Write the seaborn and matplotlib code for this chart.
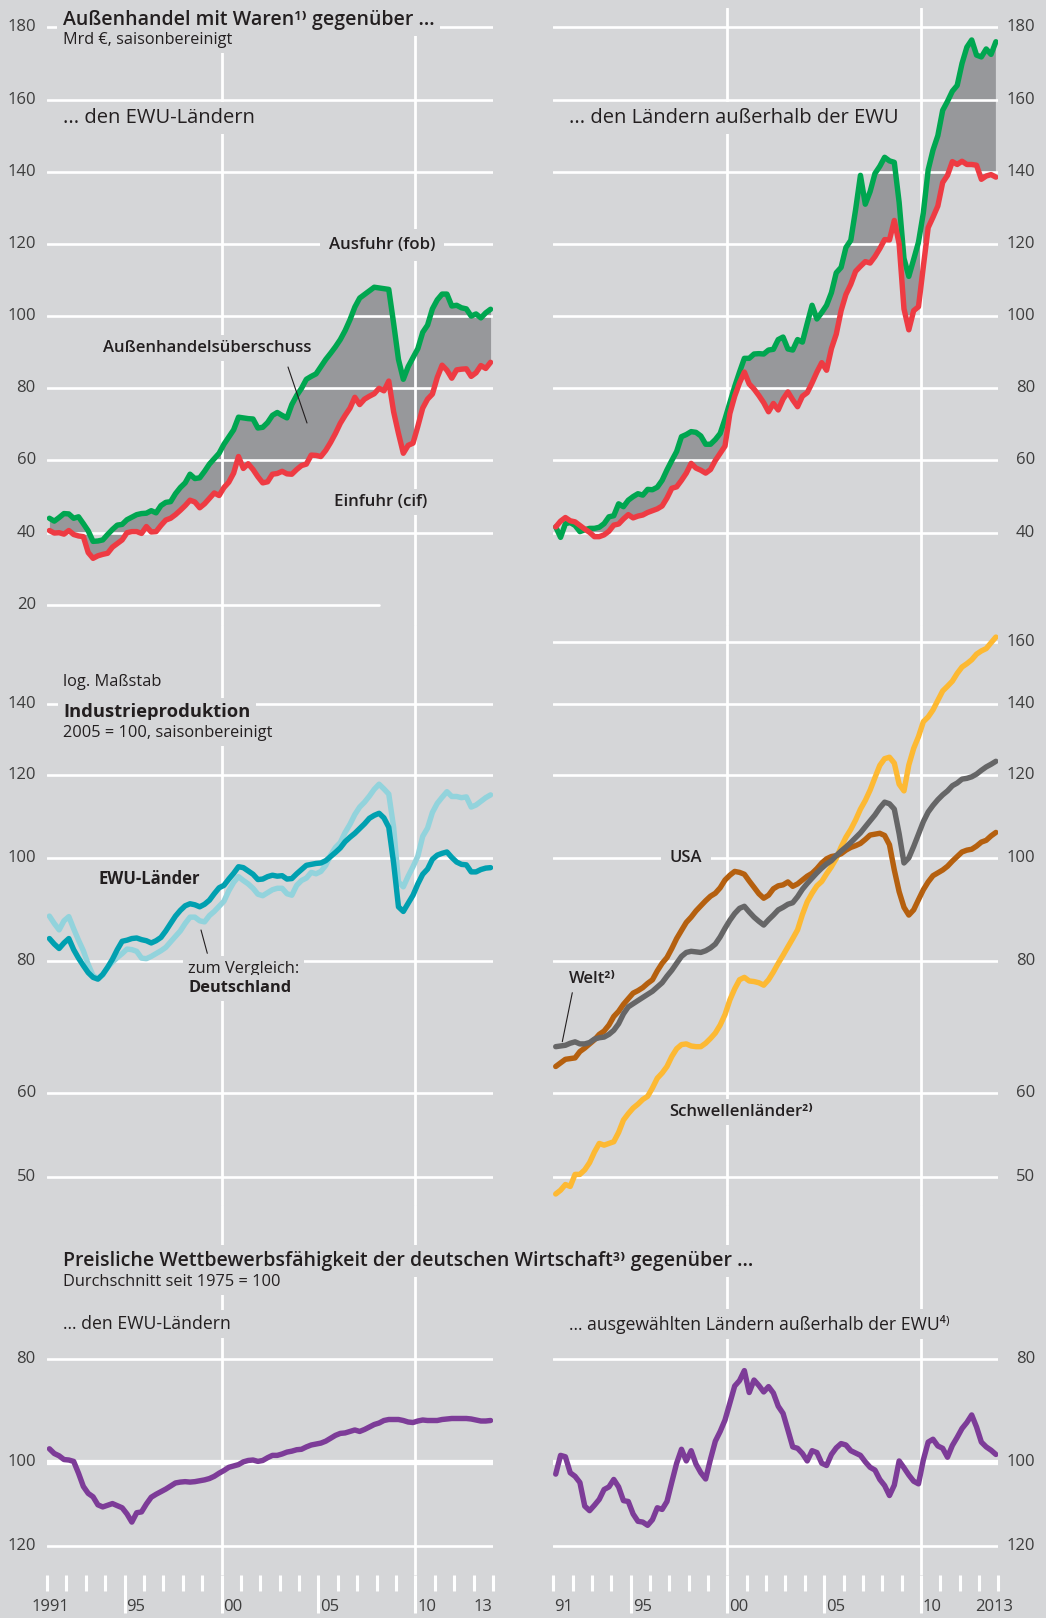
import numpy as np
import pandas as pd
import matplotlib
matplotlib.use("Agg")
import matplotlib.pyplot as plt
import matplotlib.transforms as mtransforms
from matplotlib.lines import Line2D
from matplotlib.ticker import FixedLocator, NullFormatter
import seaborn as sns

# Farben
BG = "#d5d6d8"
GREEN = "#00a650"
RED = "#ee3b43"
FILL = "#97989b"
TEAL = "#00a0b0"
LTEAL = "#92d3dc"
BROWN = "#b5600f"
GRAY = "#666667"
YELLOW = "#fdb933"
PURPLE = "#7d3c98"
TXT = "#231f20"
TICK = "#3d3d3d"

sns.set_theme(style="white", rc={"axes.facecolor": BG, "figure.facecolor": BG})
plt.rcParams["font.family"] = ["Open Sans", "DejaVu Sans"]

# Quartale 1991Q1 .. 2013Q4
q_year = np.repeat(np.arange(1991, 2014), 4)
q_num = np.tile([1, 2, 3, 4], 23)
t = q_year + (q_num - 0.5) / 4

# Außenhandel EWU (Mrd EUR)
ewu_export = np.array([
    44.0, 43.2, 44.2, 45.3, 45.2, 44.0, 44.4, 42.5,
    40.5, 37.6, 37.7, 38.0, 39.5, 40.9, 42.1, 42.3,
    43.6, 44.3, 45.0, 45.3, 45.4, 46.1, 45.5, 47.5,
    48.4, 48.6, 50.8, 52.5, 53.8, 56.2, 55.0, 55.2,
    57.0, 59.0, 60.5, 62.0, 64.5, 66.5, 68.5, 72.0,
    71.8, 71.6, 71.5, 69.0, 69.2, 70.5, 72.5, 73.3,
    72.5, 71.8, 75.5, 78.0, 80.0, 82.5, 83.3, 84.0,
    86.0, 88.0, 89.7, 91.5, 93.5, 96.0, 99.0, 102.5,
    105.0, 106.0, 107.0, 108.0, 107.8, 107.6, 107.4, 98.0,
    88.0, 82.5, 86.0, 88.5, 91.0, 95.5, 97.5, 102.0,
    104.5, 106.1, 106.1, 102.8, 103.0, 102.3, 102.0, 100.0,
    100.6, 99.5, 100.9, 101.9])
ewu_import = np.array([
    40.6, 39.9, 40.0, 39.6, 40.6, 39.5, 39.1, 38.9,
    34.5, 32.9, 33.6, 34.0, 34.3, 36.0, 37.0, 38.0,
    40.0, 40.3, 40.3, 39.8, 41.7, 40.2, 40.3, 42.0,
    43.5, 44.0, 45.0, 46.2, 47.5, 49.0, 48.5, 46.9,
    48.0, 49.5, 51.0, 50.3, 52.5, 54.0, 56.5, 61.1,
    57.8, 59.1, 57.5, 55.5, 53.8, 54.1, 56.2, 56.4,
    57.0, 56.3, 56.2, 57.5, 58.6, 59.0, 61.5, 61.4,
    61.1, 62.8, 65.0, 67.5, 70.3, 72.5, 74.5, 77.5,
    75.5, 77.0, 77.8, 78.5, 80.0, 79.3, 82.0, 73.5,
    67.5, 62.0, 64.2, 64.8, 69.5, 74.5, 77.0, 78.4,
    83.0, 86.4, 85.0, 82.8, 85.1, 85.3, 85.4, 83.3,
    84.3, 86.3, 85.5, 87.2])

# Außenhandel außerhalb der EWU
xewu_export = np.array([
    41.6, 38.7, 42.5, 42.8, 42.0, 40.3, 40.8, 41.2,
    41.2, 41.5, 42.5, 44.4, 44.7, 48.0, 47.2, 49.0,
    50.0, 50.8, 50.4, 52.0, 51.9, 52.6, 54.5, 57.4,
    60.0, 62.5, 66.6, 67.2, 68.0, 67.8, 66.8, 64.5,
    64.5, 65.8, 67.5, 71.5, 76.0, 80.5, 84.5, 88.3,
    88.3, 89.5, 89.6, 89.5, 90.6, 90.8, 93.5, 94.2,
    90.9, 90.6, 93.5, 92.8, 98.0, 103.0, 99.2, 101.0,
    103.0, 106.5, 112.0, 113.5, 119.0, 121.0, 129.5, 139.0,
    131.0, 134.5, 139.5, 141.5, 144.0, 143.0, 142.6, 131.5,
    116.0, 111.0, 115.7, 120.5, 128.6, 140.5, 146.0, 150.0,
    157.0, 159.5, 162.3, 163.9, 170.0, 174.5, 176.5, 172.3,
    171.8, 174.0, 172.5, 176.0])
xewu_import = np.array([
    41.6, 43.2, 44.2, 43.3, 43.0, 42.0, 41.0, 40.1,
    38.9, 38.9, 39.4, 40.4, 42.1, 42.4, 43.8, 45.0,
    44.1, 44.6, 44.9, 45.6, 46.1, 46.6, 47.4, 49.6,
    52.3, 52.7, 54.5, 56.5, 59.2, 57.9, 57.3, 56.5,
    57.5, 60.0, 62.0, 64.0, 73.0, 77.8, 81.5, 84.5,
    81.2, 79.8, 78.0, 76.0, 73.5, 75.8, 74.0, 77.0,
    79.0, 76.8, 74.9, 77.8, 78.8, 81.5, 84.5, 87.1,
    85.0, 91.0, 95.0, 101.5, 106.0, 108.8, 112.4, 113.8,
    115.1, 114.7, 116.5, 118.7, 121.2, 121.1, 126.5, 120.0,
    102.0, 96.2, 101.5, 102.6, 113.7, 124.5, 127.4, 130.5,
    137.0, 139.0, 142.8, 142.0, 142.9, 142.0, 142.0, 141.8,
    137.9, 138.8, 139.2, 138.5])

# Industrieproduktion, 2005 = 100
ip_ewu = np.array([
    84.0, 83.0, 82.2, 83.2, 84.0, 82.0, 80.5, 79.2,
    78.0, 77.2, 76.9, 77.7, 78.9, 80.3, 82.0, 83.5,
    83.7, 84.0, 84.1, 83.8, 83.6, 83.2, 83.6, 84.2,
    85.4, 86.8, 88.2, 89.3, 90.2, 90.6, 90.4, 90.0,
    90.5, 91.3, 92.6, 93.8, 94.3, 95.6, 96.8, 98.2,
    98.0, 97.3, 96.6, 95.5, 95.6, 96.1, 96.4, 96.2,
    96.3, 95.6, 95.7, 96.7, 97.6, 98.5, 98.7, 98.9,
    99.0, 99.5, 100.4, 101.3, 102.3, 103.7, 104.7, 105.6,
    106.7, 107.8, 109.1, 109.8, 110.3, 109.2, 107.0, 99.0,
    90.0, 89.1, 90.7, 92.3, 94.6, 96.6, 97.7, 99.8,
    100.7, 101.1, 101.4, 100.2, 99.2, 98.7, 98.6, 97.1,
    97.1, 97.6, 97.9, 98.0])
ip_de = np.array([
    88.2, 86.8, 85.6, 87.3, 88.1, 85.8, 83.7, 81.8,
    79.4, 77.5, 77.0, 77.6, 78.9, 79.8, 80.6, 81.3,
    82.1, 82.0, 81.7, 80.5, 80.4, 80.8, 81.3, 81.8,
    82.4, 83.4, 84.4, 85.4, 86.8, 88.0, 88.0, 87.3,
    87.1, 88.3, 89.1, 90.1, 91.1, 93.2, 94.9, 96.1,
    95.3, 94.6, 93.7, 92.5, 92.2, 92.8, 93.4, 93.7,
    93.7, 92.6, 92.3, 94.3, 95.3, 95.8, 97.0, 96.7,
    97.2, 98.5, 100.7, 102.4, 103.5, 105.8, 107.7, 110.0,
    111.8, 113.0, 114.5, 116.2, 117.5, 116.3, 115.0, 107.0,
    95.0, 94.0, 96.2, 98.2, 100.5, 104.9, 106.8, 110.5,
    112.7, 114.2, 115.6, 114.4, 114.4, 114.1, 114.3, 111.8,
    112.3, 113.2, 114.1, 114.8])
ip_usa = np.array([
    63.6, 64.1, 64.6, 64.7, 64.8, 65.7, 66.2, 66.8,
    67.4, 68.2, 68.7, 69.6, 70.9, 71.7, 72.8, 73.7,
    74.6, 75.0, 75.5, 76.2, 76.8, 78.3, 79.6, 80.6,
    82.2, 84.0, 85.5, 87.0, 88.0, 89.2, 90.2, 91.2,
    92.1, 92.7, 93.8, 95.4, 96.4, 97.2, 97.0, 96.6,
    95.2, 93.9, 92.6, 91.7, 92.3, 93.6, 94.2, 94.4,
    95.0, 94.1, 94.6, 95.4, 96.2, 96.8, 97.8, 99.0,
    99.9, 100.4, 100.6, 101.0, 101.8, 102.4, 102.8, 103.3,
    104.2, 105.2, 105.4, 105.6, 105.1, 103.0, 97.5, 93.0,
    89.9, 88.4, 89.4, 91.4, 93.4, 95.0, 96.3, 96.9,
    97.5, 98.3, 99.4, 100.4, 101.4, 101.8, 102.0, 102.7,
    103.6, 104.0, 105.0, 105.8])
ip_world = np.array([
    66.4, 66.5, 66.6, 66.9, 67.1, 66.8, 66.8, 67.0,
    67.5, 67.7, 67.8, 68.2, 68.8, 69.8, 71.3, 72.4,
    72.9, 73.4, 73.9, 74.4, 74.9, 75.6, 76.3, 77.4,
    78.4, 79.6, 80.8, 81.5, 81.7, 81.6, 81.5, 81.8,
    82.3, 83.0, 84.3, 85.9, 87.4, 88.7, 89.7, 90.1,
    89.0, 88.0, 87.2, 86.5, 87.5, 88.4, 89.4, 89.9,
    90.5, 90.8, 92.0, 93.5, 94.7, 95.8, 96.9, 97.9,
    98.8, 99.5, 100.6, 101.6, 102.5, 103.5, 104.6, 105.7,
    107.1, 108.5, 109.9, 111.6, 113.0, 112.6, 111.3, 105.5,
    99.0, 100.1, 102.6, 105.4, 108.3, 110.6, 112.2, 113.6,
    114.8, 115.8, 117.1, 117.8, 118.8, 119.0, 119.4, 120.1,
    121.1, 122.0, 122.7, 123.5])
ip_emerging = np.array([
    48.2, 48.6, 49.2, 49.0, 50.3, 50.3, 50.8, 51.6,
    52.8, 53.8, 53.6, 53.8, 54.0, 55.1, 56.6, 57.4,
    58.1, 58.6, 59.2, 59.6, 60.7, 62.0, 62.7, 63.6,
    65.0, 66.1, 66.7, 66.8, 66.5, 66.4, 66.4, 66.9,
    67.6, 68.4, 69.6, 71.2, 73.5, 75.3, 76.8, 77.2,
    76.6, 76.5, 76.3, 75.9, 76.8, 78.1, 79.6, 81.0,
    82.5, 84.0, 85.6, 88.5, 91.0, 92.7, 94.2, 95.1,
    96.7, 98.2, 100.0, 102.5, 104.7, 106.5, 108.7, 111.3,
    113.4, 116.0, 119.2, 122.4, 124.2, 124.6, 123.0, 117.5,
    115.8, 122.5, 127.0, 130.3, 134.6, 136.0, 138.1, 141.0,
    143.9, 145.4, 147.0, 149.5, 151.6, 152.7, 154.0, 155.9,
    157.0, 157.8, 159.8, 161.8])

# Preisliche Wettbewerbsfähigkeit, Durchschnitt seit 1975 = 100
comp_ewu = np.array([
    97.2, 98.2, 98.7, 99.5, 99.6, 99.9, 102.5, 105.5,
    107.1, 107.9, 109.8, 110.3, 109.9, 109.5, 110.0, 110.5,
    112.0, 114.0, 111.7, 111.5, 109.6, 108.0, 107.3, 106.7,
    106.1, 105.4, 104.7, 104.5, 104.4, 104.5, 104.4, 104.2,
    104.0, 103.7, 103.2, 102.5, 101.9, 101.2, 100.9, 100.6,
    100.0, 99.7, 99.6, 99.9, 99.7, 99.1, 98.6, 98.6,
    98.3, 97.9, 97.7, 97.4, 97.3, 96.8, 96.4, 96.2,
    96.0, 95.6, 95.0, 94.4, 94.0, 93.9, 93.6, 93.3,
    93.6, 93.2, 92.7, 92.2, 91.9, 91.4, 91.2, 91.2,
    91.2, 91.4, 91.7, 91.8, 91.5, 91.3, 91.4, 91.4,
    91.4, 91.2, 91.1, 91.0, 91.0, 91.0, 91.0, 91.1,
    91.3, 91.5, 91.5, 91.4])
comp_xewu = np.array([
    102.7, 98.6, 98.9, 102.4, 103.2, 104.6, 110.1, 111.2,
    109.9, 108.5, 106.2, 105.6, 103.9, 105.6, 108.8, 109.0,
    112.0, 113.8, 114.0, 114.8, 113.4, 110.5, 110.9, 109.0,
    104.5, 100.3, 97.3, 99.8, 97.6, 100.5, 102.4, 103.8,
    99.4, 95.6, 93.6, 91.3, 88.0, 84.8, 83.8, 82.0,
    86.0, 83.7, 84.7, 85.9, 84.9, 86.1, 88.6, 90.0,
    93.3, 96.8, 97.1, 98.2, 99.8, 97.6, 98.0, 100.3,
    100.8, 98.4, 97.0, 96.1, 96.4, 97.6, 98.1, 98.6,
    100.0, 101.2, 101.8, 103.9, 105.3, 107.6, 105.2, 99.8,
    101.3, 102.9, 104.3, 104.9, 99.6, 95.8, 95.2, 96.6,
    97.1, 99.0, 96.5, 94.8, 93.0, 91.8, 90.3, 92.7,
    95.8, 96.8, 97.5, 98.4])

trade_ticks_left = [180, 160, 140, 120, 100, 80, 60, 40, 20]
trade_ticks_right = [180, 160, 140, 120, 100, 80, 60, 40]
ip_ticks_left = [140, 120, 100, 80, 60, 50]
ip_ticks_right = [160, 140, 120, 100, 80, 60, 50]
comp_ticks = [80, 100, 120]
year_labels_left = [(1991.15, "1991", "center"), (1995.1, "95", "left"), (2000.1, "00", "left"),
                    (2005.1, "05", "left"), (2010.1, "10", "left"), (2013.0, "13", "left")]
year_labels_right = [(1991.05, "91", "left"), (1995.1, "95", "left"), (2000.1, "00", "left"),
                     (2005.1, "05", "left"), (2010.1, "10", "left"), (2012.8, "2013", "left")]

W, H = 1046, 1618
fig = plt.figure(figsize=(W / 100, H / 100), dpi=100, facecolor=BG)

COLS = {"left": (47, 493), "right": (553.3, 998.3)}
ROWS = {"top": (8, 625), "mid": (625, 1205), "bot": (1205, 1575)}
TICK_SIZE = 12


def make_ax(col, row):
    x0, x1 = COLS[col]
    y0, y1 = ROWS[row]
    ax = fig.add_axes([x0 / W, 1 - y1 / H, (x1 - x0) / W, (y1 - y0) / H])
    ax.set_facecolor(BG)
    for s in ax.spines.values():
        s.set_visible(False)
    for yr in (2000, 2010):
        ax.axvline(yr, color="white", lw=2.0, zorder=1)
    return ax


def ygrid(ax, values, side, partial=None, thick=()):
    trans = mtransforms.blended_transform_factory(ax.transAxes, ax.transData)
    for v in values:
        xmax = partial.get(v, 1) if partial else 1
        ax.axhline(v, xmin=0, xmax=xmax, color="white",
                   lw=3.8 if v in thick else 1.9, zorder=1)
        x = -0.025 if side == "left" else 1.083
        ax.text(x, v, str(v), transform=trans, ha="right", va="center",
                fontsize=TICK_SIZE, color=TICK)


def draw(ax, series, palette, lw=3.9):
    df = pd.concat([pd.DataFrame({"t": t, "value": vals, "series": name})
                    for name, vals in series.items()], ignore_index=True)
    sns.lineplot(data=df, x="t", y="value", hue="series", hue_order=list(series),
                 palette=palette, linewidth=lw, legend=False, estimator=None,
                 ax=ax, zorder=3)
    ax.set_xlabel("")
    ax.set_ylabel("")


def finish(ax, ylim, log=False, xaxis=False):
    if log:
        ax.set_yscale("log")
    ax.set_xlim(1991, 2014)
    ax.set_ylim(*ylim)
    ax.yaxis.set_visible(False)
    if not xaxis:
        ax.xaxis.set_visible(False)


# --- Außenhandel ---
for col, exp, imp, ticks in [("left", ewu_export, ewu_import, trade_ticks_left),
                             ("right", xewu_export, xewu_import, trade_ticks_right)]:
    ax = make_ax(col, "top")
    ax.fill_between(t, imp, exp, where=exp >= imp, interpolate=True,
                    color=FILL, lw=0, zorder=0.5)
    ygrid(ax, ticks, col, partial={20: (379 - 47) / 446})
    draw(ax, {"Ausfuhr": exp, "Einfuhr": imp}, {"Ausfuhr": GREEN, "Einfuhr": RED})
    finish(ax, (14.43, 185.35))

# --- Industrieproduktion ---
ax = make_ax("left", "mid")
ygrid(ax, ip_ticks_left, "left")
draw(ax, {"Deutschland": ip_de, "EWU-Länder": ip_ewu},
     {"Deutschland": LTEAL, "EWU-Länder": TEAL})
finish(ax, (47.06, 166.1), log=True)

ax = make_ax("right", "mid")
ygrid(ax, ip_ticks_right, "right")
draw(ax, {"Schwellenländer": ip_emerging, "USA": ip_usa, "Welt": ip_world},
     {"Schwellenländer": YELLOW, "USA": BROWN, "Welt": GRAY})
finish(ax, (47.06, 166.1), log=True)

# --- Preisliche Wettbewerbsfähigkeit ---
for col, vals, labels in [("left", comp_ewu, year_labels_left),
                          ("right", comp_xewu, year_labels_right)]:
    ax = make_ax(col, "bot")
    ygrid(ax, comp_ticks, col, thick=(100,))
    draw(ax, {"Index": vals}, {"Index": PURPLE})
    finish(ax, (127.9, 57.2), log=True, xaxis=True)
    ax.xaxis.set_major_locator(FixedLocator([1995, 2000, 2005, 2010]))
    ax.xaxis.set_minor_locator(FixedLocator(list(range(1991, 2015))))
    ax.xaxis.set_major_formatter(NullFormatter())
    ax.xaxis.set_minor_formatter(NullFormatter())
    ax.tick_params(axis="x", which="major", length=27.4, width=2.2, color="white",
                   direction="out", bottom=True)
    ax.tick_params(axis="x", which="minor", length=11.5, width=2.2, color="white",
                   direction="out", bottom=True)
    trans = mtransforms.blended_transform_factory(ax.transData, ax.transAxes)
    for x, s, ha in labels:
        ax.text(x, -0.0857, s, transform=trans, ha=ha, va="center",
                fontsize=TICK_SIZE, color=TICK)


def ftext(x, y, s, size=11.5, weight="normal", ha="left", color=TXT, pad=0.3):
    fig.text(x / W, 1 - y / H, s, ha=ha, va="center", fontsize=size,
             fontweight=weight, color=color,
             bbox=dict(boxstyle=f"square,pad={pad}", fc=BG, ec="none"))


def leader(x0, y0, x1, y1):
    fig.add_artist(Line2D([x0 / W, x1 / W], [1 - y0 / H, 1 - y1 / H],
                          color=TXT, lw=0.8))


ftext(63, 20, "Außenhandel mit Waren\u00b9\u207e gegenüber ...", 14, "semibold")
ftext(63, 40, "Mrd €, saisonbereinigt", 11.7)
ftext(63, 118, "... den EWU-Ländern", 14.5)
ftext(569, 118, "... den Ländern außerhalb der EWU", 14.5)
ftext(382, 245, "Ausfuhr (fob)", 12.2, "semibold", ha="center", pad=0.5)
ftext(207.5, 348, "Außenhandelsüberschuss", 12, "semibold", ha="center")
leader(288, 367, 307, 423)
ftext(381, 502, "Einfuhr (cif)", 12.2, "semibold", ha="center")

ftext(63, 682, "log. Maßstab", 11.8)
ftext(63, 712, "Industrieproduktion", 13.2, "bold")
ftext(63, 733, "2005 = 100, saisonbereinigt", 11.8)
ftext(148.8, 879, "EWU-Länder", 12, "bold", ha="center")
ftext(188, 969, "zum Vergleich:", 11.8)
ftext(188, 988, "Deutschland", 11.8, "bold")
leader(201, 930, 207.3, 953.3)
ftext(686, 858, "USA", 12, "semibold", ha="center", pad=0.5)
ftext(569, 979, "Welt\u00b2\u207e", 12, "semibold")
leader(572.3, 992.7, 562.3, 1041.7)
ftext(669, 1112, "Schwellenländer\u00b2\u207e", 12, "semibold")

ftext(63, 1261, "Preisliche Wettbewerbsfähigkeit der deutschen Wirtschaft\u00b3\u207e gegenüber ...",
      14, "semibold")
ftext(63, 1282, "Durchschnitt seit 1975 = 100", 11.8)
ftext(63, 1324, "... den EWU-Ländern", 12.7)
ftext(569, 1324, "... ausgewählten Ländern außerhalb der EWU\u2074\u207e", 12.7)

fig.savefig("out.png", dpi=100, facecolor=BG)
